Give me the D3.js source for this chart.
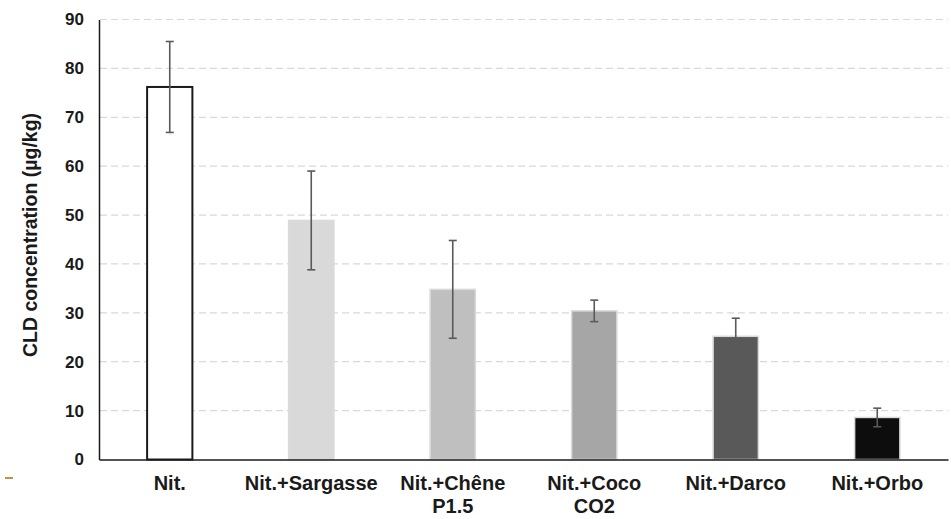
<!DOCTYPE html>
<html>
<head>
<meta charset="utf-8">
<script src="https://cdn.jsdelivr.net/npm/d3@7"></script>
<style>
body { margin: 0; background: #fff; }
text { font-family: "Liberation Sans", Arial, sans-serif; font-weight: bold; fill: #1a1a1a; }
</style>
</head>
<body>
<svg id="chart" width="951" height="519"></svg>
<script>
(function () {
// data
var categories = ["Nit.", "Nit.+Sargasse", "Nit.+Chêne\nP1.5", "Nit.+Coco\nCO2", "Nit.+Darco", "Nit.+Orbo"];
var values = [76.2, 48.9, 34.8, 30.4, 25.2, 8.6];
var errors = [9.3, 10.1, 10.0, 2.2, 3.7, 1.9];
var colors = ["#ffffff", "#d9d9d9", "#bfbfbf", "#a6a6a6", "#595959", "#0d0d0d"];
var yTicks = [0, 10, 20, 30, 40, 50, 60, 70, 80, 90];

var svg = d3.select("#chart");
var left = 99, right = 948, top = 19.5, bottom = 459.5;

var x = d3.scaleBand()
  .domain(categories)
  .range([left, right])
  .paddingInner(0.68)
  .paddingOuter(0.34);

var y = d3.scaleLinear()
  .domain([0, 90])
  .range([bottom, top]);

// dashed gridlines
svg.append("g")
  .selectAll("line")
  .data(yTicks.filter(function (d) { return d > 0 }))
  .enter()
  .append("line")
  .attr("x1", left + 1)
  .attr("x2", right)
  .attr("y1", function (d) { return y(d) })
  .attr("y2", function (d) { return y(d) })
  .attr("stroke", "#d9d9d9")
  .attr("stroke-width", 1.2)
  .attr("stroke-dasharray", "7,4")

// bars
svg.append("g")
  .selectAll("rect")
  .data(values)
  .enter()
  .append("rect")
  .attr("x", function (d, i) { return x(categories[i]) })
  .attr("width", x.bandwidth())
  .attr("y", function (d) { return y(d) })
  .attr("height", function (d) { return y(0) - y(d) })
  .attr("fill", function (d, i) { return colors[i] })
  .attr("stroke", function (d, i) { return i == 0 ? "#1a1a1a" : "#dadada" })
  .attr("stroke-width", function (d, i) { return i == 0 ? 2 : 1.5 })

// error bars
var err = svg.append("g")
  .attr("stroke", "#5a5a5a")
  .attr("stroke-width", 1.6)
  .selectAll("g")
  .data(values)
  .enter()
  .append("g")
  .attr("transform", function (d, i) { return "translate(" + (x(categories[i]) + x.bandwidth() / 2) + ",0)" })

err.append("line")
  .attr("y1", function (d, i) { return y(d + errors[i]) })
  .attr("y2", function (d, i) { return y(d - errors[i]) })
err.append("line")
  .attr("x1", -4).attr("x2", 4)
  .attr("y1", function (d, i) { return y(d + errors[i]) })
  .attr("y2", function (d, i) { return y(d + errors[i]) })
err.append("line")
  .attr("x1", -4).attr("x2", 4)
  .attr("y1", function (d, i) { return y(d - errors[i]) })
  .attr("y2", function (d, i) { return y(d - errors[i]) })

// y axis
var yAxis = svg.append("g")
  .attr("transform", "translate(" + left + ",0)")
  .call(d3.axisLeft(y).tickValues(yTicks).tickSize(0).tickPadding(15))
yAxis.select(".domain").attr("stroke", "#1a1a1a").attr("stroke-width", 1.5)
yAxis.selectAll("text").style("font-size", "17px").attr("fill", "#1a1a1a")

// x axis
var xAxis = svg.append("g")
  .attr("transform", "translate(0," + bottom + ")")
  .call(d3.axisBottom(x).tickSize(0).tickPadding(0))
xAxis.select(".domain").attr("stroke", "#1a1a1a").attr("stroke-width", 1.5)
xAxis.selectAll("text").remove()
xAxis.selectAll(".tick")
  .append("text")
  .attr("text-anchor", "middle")
  .style("font-size", "20px")
  .attr("fill", "#1a1a1a")
  .selectAll("tspan")
  .data(function (d) { return d.split("\n") })
  .enter()
  .append("tspan")
  .attr("x", 0)
  .attr("y", function (d, i) { return 30 + i * 23 })
  .text(function (d) { return d })

// y title
svg.append("text")
  .attr("transform", "translate(37,235) rotate(-90)")
  .attr("text-anchor", "middle")
  .style("font-size", "19.5px")
  .text("CLD concentration (µg/kg)")

// small orange mark in the corner of the original
svg.append("rect")
  .attr("x", 5).attr("y", 477)
  .attr("width", 8).attr("height", 2)
  .attr("fill", "#c0924a")
})();
</script>
</body>
</html>
